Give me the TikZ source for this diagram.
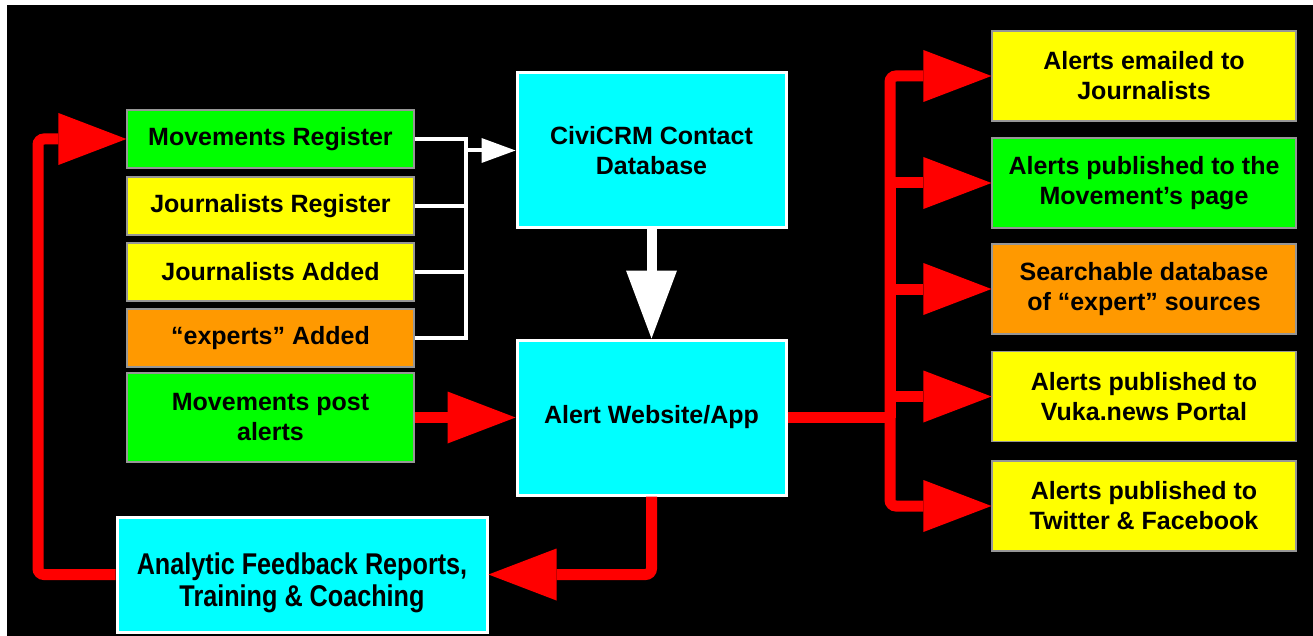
\documentclass[tikz,border=0pt]{standalone}
\usepackage{fontspec}
\usepackage{graphicx}
\setmainfont{Liberation Sans}
\usetikzlibrary{arrows.meta,calc}
\definecolor{boxgreen}{RGB}{0,255,0}
\definecolor{boxyellow}{RGB}{255,255,0}
\definecolor{boxorange}{RGB}{255,153,0}
\definecolor{hubcyan}{RGB}{0,255,255}
\definecolor{flowred}{RGB}{255,0,0}
\definecolor{edgegray}{RGB}{150,150,150}
\begin{document}
\begin{tikzpicture}[x=1pt,y=-1pt,
  txt/.style={font=\fontsize{25}{30}\selectfont\bfseries, text=black, align=center, inner sep=0pt},
  regbox/.style={txt, draw=edgegray, line width=1.2pt, minimum width=287pt, minimum height=58pt},
  outbox/.style={txt, draw=edgegray, line width=1.2pt, minimum width=304pt, minimum height=90pt},
  hubbox/.style={txt, fill=hubcyan, draw=white, line width=3pt},
  wline/.style={draw=white, line width=4pt},
  redline/.style={draw=flowred, line width=11pt},
  redflow/.style={redline, -{Triangle[length=68pt,width=52pt,line width=0pt]}},
]
% canvas
\fill[white] (0,0) rectangle (1313,636);
\fill[black] (7,5) rectangle (1313,636);
\useasboundingbox (0,0) rectangle (1313,636);

% registration sources
\node[regbox, fill=boxgreen]  (mreg)  at (270.5,139)   {Movements Register};
\node[regbox, fill=boxyellow] (jreg)  at (270.5,206)   {Journalists Register};
\node[regbox, fill=boxyellow] (jadd)  at (270.5,272)   {Journalists Added};
\node[regbox, fill=boxorange] (eadd)  at (270.5,338)   {“experts” Added};
\node[regbox, fill=boxgreen, minimum height=89pt] (mpost) at (270.5,417.5) {Movements post\\alerts};

% central systems
\node[hubbox, minimum width=269pt, minimum height=155pt] (crm) at (651.5,150.5) {CiviCRM Contact\\Database};
\node[hubbox, minimum width=269pt, minimum height=155pt] (app) at (651.5,417.5) {Alert Website/App};
\node[hubbox, minimum width=370pt, minimum height=115pt] (fb) at (302,574.5)
  {\raisebox{-16pt}[0pt][0pt]{\scalebox{0.84}[1]{\fontsize{30}{32}\selectfont\begin{tabular}{@{}c@{}}Analytic Feedback Reports,\\Training \& Coaching\end{tabular}}}};

% outputs
\node[outbox, fill=boxyellow] (out1) at (1144,76)    {Alerts emailed to\\Journalists};
\node[outbox, fill=boxgreen]  (out2) at (1144,183)   {Alerts published to the\\Movement’s page};
\node[outbox, fill=boxorange] (out3) at (1144,289)   {Searchable database\\of “expert” sources};
\node[outbox, fill=boxyellow] (out4) at (1144,396.5) {Alerts published to\\Vuka.news Portal};
\node[outbox, fill=boxyellow] (out5) at (1144,506)   {Alerts published to\\Twitter \& Facebook};

% registrations feed the contact database
\coordinate (wj) at (466,150.5);
\draw[wline] (mreg.east) -| (wj |- eadd.east) -- (eadd.east);
\draw[wline] (jreg.east) -- (jreg.east -| wj);
\draw[wline] (jadd.east) -- (jadd.east -| wj);
\draw[wline, -{Triangle[length=34pt,width=25pt,line width=0pt]}] (wj) -- (crm.west);
\draw[white, line width=10pt, -{Triangle[length=68pt,width=51pt,line width=0pt]}] (crm.south) -- (app.north);

% alert flow
\draw[redflow] (mpost.east) -- (app.west);
\coordinate (rj) at (890,417.5);
\draw[redline] (app.east) -- (rj);
\draw[redflow, rounded corners=6pt] (rj) |- (out1.west);
\draw[redflow] (rj) |- (out2.west);
\draw[redflow] (rj) |- (out3.west);
\draw[redflow] (rj) |- (out4.west);
\draw[redflow, rounded corners=6pt] (rj) |- (out5.west);

% feedback loop
\coordinate (lx) at (38,0);
\draw[redflow, rounded corners=6pt] (app.south) |- (fb.east);
\draw[redflow, rounded corners=6pt] (fb.west) -| (lx |- mreg.west) -- (mreg.west);
\end{tikzpicture}
\end{document}
